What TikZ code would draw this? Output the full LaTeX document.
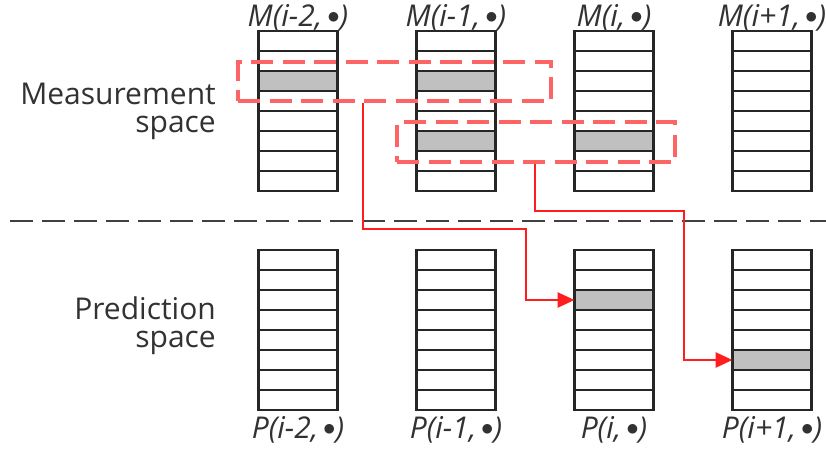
\documentclass[tikz,border=0pt]{standalone}
\usepackage{fontspec}
\setmainfont{Open Sans}
\usetikzlibrary{positioning,arrows.meta}
\definecolor{cellgray}{RGB}{192,192,192}
\definecolor{boxred}{RGB}{255,100,100}
\definecolor{linkred}{RGB}{255,30,30}
\definecolor{textgray}{RGB}{50,50,50}
\newcommand{\dotarg}{\,\raisebox{0.1em}{$\bullet$}}
\begin{document}
\begin{tikzpicture}[x=1pt,y=-1pt,
  cell node/.style={rectangle,draw=black!85,line width=2.3pt,minimum width=79pt,minimum height=20pt,inner sep=0pt,outer sep=0pt},
  shade node/.style={cell node,fill=cellgray},
  label node/.style={font=\fontsize{30}{28}\selectfont\itshape,text=textgray,inner sep=0pt},
  space node/.style={font=\fontsize{30}{28}\selectfont,text=textgray,align=right,inner sep=0pt,anchor=east},
  group box/.style={draw=boxred,line width=3.2pt,dash pattern=on 22pt off 9.5pt,inner sep=0pt},
  link/.style={draw=linkred,line width=2.8pt,-{Triangle[length=17pt,width=15pt]}}]

  \useasboundingbox (0,0) rectangle (826,452);

  \foreach \c/\x/\i in {1/298/i-2,2/456/i-1,3/614/i,4/772/i+1} {
    \node[cell node] (M\c-1) at (\x,41) {};
    \node[cell node] (P\c-1) at (\x,260) {};
    \foreach \r [remember=\r as \q (initially 1)] in {2,...,8} {
      \node[cell node,below=0pt of M\c-\q] (M\c-\r) {};
      \node[cell node,below=0pt of P\c-\q] (P\c-\r) {};
    }
    \node[label node] (lm\c) at (\x,18) {M(\i,\dotarg)};
    \node[label node] (lp\c) at (\x,430) {P(\i,\dotarg)};
  }

  \node[shade node] (s1) at (M1-3) {};
  \node[shade node] (s2) at (M2-3) {};
  \node[shade node] (s3) at (M2-6) {};
  \node[shade node] (s4) at (M3-6) {};
  \node[shade node] (s5) at (P3-3) {};
  \node[shade node] (s6) at (P4-6) {};

  \node[space node] (meas) at (216,111) {Measurement\\space};
  \node[space node] (pred) at (216,326) {Prediction\\space};

  \draw[black!75,line width=2.6pt,dash pattern=on 23pt off 9pt] (10,221) -- (826,221);

  \node[group box,minimum width=313pt,minimum height=39pt] (B1) at (394.5,81.5) {};
  \node[group box,minimum width=278pt,minimum height=40pt] (B2) at (536,142) {};

  \draw[link] (363,0 |- B1.south) |- (526,229) |- (s5.west);
  \draw[link] (535,0 |- B2.south) |- (684,211) |- (s6.west);
\end{tikzpicture}
\end{document}
